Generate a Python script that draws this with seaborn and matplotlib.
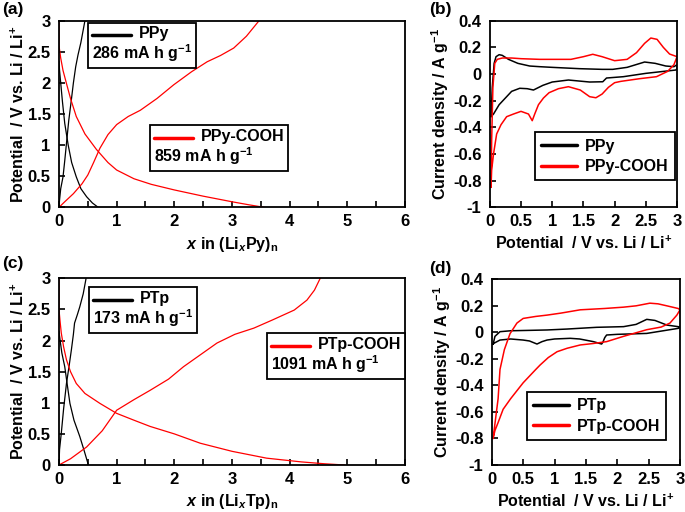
import numpy as np
import pandas as pd
import seaborn as sns
import matplotlib
matplotlib.use("Agg")
import matplotlib.pyplot as plt
from matplotlib.lines import Line2D
from matplotlib.offsetbox import AnchoredOffsetbox, VPacker, HPacker, TextArea, DrawingArea
from matplotlib.ticker import MultipleLocator, FuncFormatter

# ---------------- data ----------------
# (a) PPy / PPy-COOH galvanostatic curves
ppy_dis_x = [0, 0.01, 0.03, 0.06, 0.1, 0.16, 0.22, 0.3, 0.38, 0.48, 0.58, 0.68]
ppy_dis_y = [2.35, 2.2, 2.0, 1.7, 1.35, 1.0, 0.72, 0.49, 0.3, 0.17, 0.07, 0.0]
ppy_chg_x = [0, 0.01, 0.03, 0.07, 0.1, 0.13, 0.17, 0.215, 0.25, 0.29, 0.33, 0.38, 0.45]
ppy_chg_y = [0, 0.12, 0.3, 0.49, 0.75, 1.03, 1.4, 1.73, 2.0, 2.26, 2.45, 2.65, 3.0]
ppyc_dis_x = [0, 0, 0.03, 0.07, 0.13, 0.2, 0.3, 0.45, 0.65, 0.85, 1.0, 1.3, 1.6, 2.0, 2.5, 3.0, 3.3, 3.56]
ppyc_dis_y = [3.0, 2.6, 2.4, 2.2, 1.99, 1.75, 1.46, 1.18, 0.93, 0.72, 0.6, 0.46, 0.37, 0.28, 0.18, 0.09, 0.04, 0.0]
ppyc_chg_x = [0, 0.1, 0.25, 0.4, 0.5, 0.6, 0.71, 0.85, 1.0, 1.2, 1.41, 1.7, 1.99, 2.3, 2.57, 2.8, 3.03, 3.25, 3.47]
ppyc_chg_y = [0, 0.09, 0.22, 0.38, 0.52, 0.72, 0.95, 1.17, 1.33, 1.46, 1.56, 1.75, 1.97, 2.18, 2.34, 2.44, 2.56, 2.75, 3.0]

# (c) PTp / PTp-COOH galvanostatic curves
ptp_dis_x = [0, 0.02, 0.05, 0.1, 0.15, 0.19, 0.26, 0.36, 0.44, 0.51]
ptp_dis_y = [2.15, 2.0, 1.8, 1.58, 1.25, 0.99, 0.72, 0.46, 0.22, 0.0]
ptp_chg_x = [0, 0.01, 0.04, 0.08, 0.13, 0.18, 0.215, 0.25, 0.27, 0.32, 0.36, 0.42, 0.47]
ptp_chg_y = [0, 0.25, 0.51, 0.9, 1.31, 1.62, 1.85, 2.1, 2.28, 2.42, 2.54, 2.75, 3.0]
ptpc_dis_x = [0, 0, 0.02, 0.04, 0.08, 0.13, 0.2, 0.3, 0.45, 0.71, 1.0, 1.3, 1.58, 2.0, 2.45, 3.0, 3.6, 4.2, 4.6, 4.95]
ptpc_dis_y = [3.0, 2.5, 2.3, 2.12, 1.9, 1.69, 1.5, 1.31, 1.15, 0.99, 0.83, 0.72, 0.62, 0.5, 0.35, 0.22, 0.11, 0.05, 0.02, 0.0]
ptpc_chg_x = [0, 0.2, 0.48, 0.75, 1.0, 1.3, 1.58, 1.9, 2.16, 2.45, 2.74, 3.05, 3.38, 3.7, 4.08, 4.3, 4.43, 4.53]
ptpc_chg_y = [0, 0.1, 0.29, 0.55, 0.88, 1.05, 1.2, 1.38, 1.58, 1.77, 1.96, 2.1, 2.2, 2.33, 2.49, 2.65, 2.81, 3.0]

# (b) CV PPy / PPy-COOH
ppy_cv_up_v = [0.02, 0.04, 0.07, 0.1, 0.15, 0.2, 0.3, 0.45, 0.64, 0.8, 1.0, 1.44, 1.8, 1.97, 2.2, 2.48, 2.65, 2.82, 2.95, 3.0]
ppy_cv_up_i = [-0.32, -0.1, 0.08, 0.13, 0.145, 0.14, 0.11, 0.08, 0.06, 0.055, 0.05, 0.04, 0.035, 0.035, 0.05, 0.09, 0.08, 0.06, 0.055, 0.07]
ppy_cv_dn_v = [3.0, 2.98, 2.5, 2.14, 1.87, 1.81, 1.6, 1.26, 1.0, 0.85, 0.7, 0.6, 0.48, 0.35, 0.27, 0.15, 0.06, 0.02]
ppy_cv_dn_i = [0.04, 0.03, 0.005, -0.02, -0.03, -0.058, -0.06, -0.045, -0.06, -0.085, -0.12, -0.11, -0.107, -0.13, -0.17, -0.23, -0.3, -0.32]
ppyc_cv_up_v = [0.02, 0.03, 0.05, 0.08, 0.12, 0.2, 0.35, 0.5, 0.8, 1.0, 1.3, 1.5, 1.65, 1.8, 2.0, 2.2, 2.35, 2.48, 2.58, 2.68, 2.78, 2.88, 3.0]
ppyc_cv_up_i = [-0.85, -0.5, -0.1, 0.08, 0.11, 0.12, 0.12, 0.115, 0.11, 0.11, 0.11, 0.13, 0.148, 0.13, 0.1, 0.11, 0.16, 0.23, 0.27, 0.26, 0.2, 0.15, 0.13]
ppyc_cv_dn_v = [3.0, 2.95, 2.85, 2.67, 2.4, 2.1, 2.0, 1.9, 1.8, 1.7, 1.6, 1.45, 1.26, 1.1, 0.95, 0.86, 0.78, 0.72, 0.68, 0.62, 0.5, 0.38, 0.27, 0.18, 0.11, 0.06, 0.03, 0.02]
ppyc_cv_dn_i = [0.13, 0.07, 0.02, -0.02, -0.035, -0.055, -0.065, -0.1, -0.15, -0.178, -0.17, -0.12, -0.095, -0.11, -0.14, -0.18, -0.23, -0.3, -0.35, -0.3, -0.28, -0.3, -0.32, -0.38, -0.45, -0.6, -0.72, -0.85]

# (d) CV PTp / PTp-COOH
ptp_cv_up_v = [0.02, 0.05, 0.13, 0.3, 0.6, 0.88, 1.2, 1.67, 2.1, 2.3, 2.47, 2.6, 2.79, 2.97, 3.0]
ptp_cv_up_i = [-0.09, -0.03, 0.005, 0.012, 0.015, 0.018, 0.025, 0.038, 0.043, 0.06, 0.098, 0.09, 0.055, 0.043, 0.04]
ptp_cv_dn_v = [3.0, 2.97, 2.47, 2.0, 1.83, 1.8, 1.77, 1.75, 1.62, 1.4, 1.25, 1.0, 0.88, 0.8, 0.72, 0.6, 0.5, 0.3, 0.13, 0.03, 0.02]
ptp_cv_dn_i = [0.035, 0.03, -0.008, -0.015, -0.02, -0.04, -0.075, -0.088, -0.07, -0.05, -0.045, -0.05, -0.058, -0.07, -0.088, -0.065, -0.058, -0.05, -0.058, -0.083, -0.09]
ptpc_cv_up_v = [0.02, 0.06, 0.1, 0.13, 0.2, 0.29, 0.4, 0.5, 0.7, 0.88, 1.1, 1.41, 1.8, 2.1, 2.3, 2.52, 2.65, 2.79, 2.97, 3.0]
ptpc_cv_up_i = [-0.8, -0.65, -0.5, -0.28, -0.13, -0.01, 0.07, 0.105, 0.12, 0.13, 0.145, 0.17, 0.18, 0.19, 0.2, 0.22, 0.215, 0.2, 0.18, 0.17]
ptpc_cv_dn_v = [3.0, 2.95, 2.84, 2.7, 2.47, 2.1, 1.83, 1.6, 1.41, 1.2, 1.04, 0.9, 0.77, 0.7, 0.5, 0.3, 0.18, 0.1, 0.05, 0.02]
ptpc_cv_dn_i = [0.17, 0.13, 0.07, 0.04, 0.02, -0.03, -0.07, -0.085, -0.095, -0.12, -0.146, -0.19, -0.246, -0.28, -0.38, -0.5, -0.58, -0.68, -0.74, -0.8]

cap_labels = {"PPy": "286 mA h g$^{-1}$", "PPy-COOH": "859 mA h g$^{-1}$",
              "PTp": "173 mA h g$^{-1}$", "PTp-COOH": "1091 mA h g$^{-1}$"}

# ---------------- style ----------------
sns.set_theme(style="white")
plt.rcParams.update({
    "font.family": ["Liberation Sans", "DejaVu Sans"],
    "font.weight": "bold",
    "axes.labelweight": "bold",
    "mathtext.fontset": "custom",
    "mathtext.rm": "Liberation Sans:bold",
    "mathtext.it": "Liberation Sans:bold:italic",
    "mathtext.bf": "Liberation Sans:bold",
    "axes.unicode_minus": False,
    "axes.edgecolor": "black",
    "axes.linewidth": 1.3,
    "xtick.direction": "in",
    "ytick.direction": "in",
    "xtick.major.size": 4,
    "ytick.major.size": 4,
    "xtick.major.width": 1.2,
    "ytick.major.width": 1.2,
    "xtick.major.pad": 5,
    "ytick.major.pad": 6,
    "xtick.bottom": True,
    "ytick.left": True,
    "xtick.color": "black",
    "ytick.color": "black",
    "xtick.labelsize": 12,
    "ytick.labelsize": 12,
    "axes.labelsize": 11.5,
    "text.color": "black",
    "axes.labelcolor": "black",
})

fig = plt.figure(figsize=(6.85, 5.12), dpi=100)
ax_a = fig.add_axes([0.0861, 0.595, 0.5051, 0.3646])
ax_b = fig.add_axes([0.715, 0.595, 0.2734, 0.3646])
ax_c = fig.add_axes([0.0861, 0.0918, 0.5051, 0.3646])
ax_d = fig.add_axes([0.718, 0.0918, 0.2747, 0.3627])


def frame(parts):
    rows = []
    for series, branch, xs, ys in parts:
        rows.append(pd.DataFrame({"x": xs, "y": ys, "series": series, "branch": branch}))
    return pd.concat(rows, ignore_index=True)


def num_fmt(v, p):
    return f"{round(v, 6) + 0:g}"


def int_fmt(v, p):
    return f"{round(v) + 0:g}" if abs(v - round(v)) < 1e-6 else ""


def gcd_axes(ax, df, names, xlabel):
    sns.lineplot(data=df, x="x", y="y", hue="series", units="branch", estimator=None,
                 sort=False, palette={names[0]: "black", names[1]: "red"}, lw=0.9,
                 legend=False, ax=ax)
    ax.set_xlim(0, 6)
    ax.set_ylim(0, 3)
    ax.xaxis.set_major_locator(MultipleLocator(0.5))
    ax.xaxis.set_major_formatter(FuncFormatter(int_fmt))
    ax.yaxis.set_major_locator(MultipleLocator(0.5))
    ax.yaxis.set_major_formatter(FuncFormatter(num_fmt))
    ax.set_xlabel(xlabel, labelpad=4)
    ax.set_ylabel("Potential  / V vs. Li / Li$^{+}$", labelpad=0.5)
    for s in ax.spines.values():
        s.set_visible(True)


def cap_box(ax, name, color, anchor):
    da = DrawingArea(28, 10, 0, 0)
    da.add_artist(Line2D([0, 28], [4, 4], color=color, lw=2.5))
    top = HPacker(children=[da, TextArea(name, textprops=dict(fontsize=11.5, fontweight="bold"))],
                  align="center", pad=0, sep=6)
    box = VPacker(children=[top, TextArea(cap_labels[name], textprops=dict(fontsize=11.5, fontweight="bold"))],
                  align="left", pad=0, sep=1)
    ab = AnchoredOffsetbox(loc="upper left", child=box, pad=0.25, borderpad=0,
                           bbox_to_anchor=anchor, bbox_transform=ax.transAxes, frameon=True)
    ab.patch.set_boxstyle("square", pad=0)
    ab.patch.set_edgecolor("black")
    ab.patch.set_linewidth(1.3)
    ax.add_artist(ab)


def cv_axes(ax, df, names, anchor):
    sns.lineplot(data=df, x="x", y="y", hue="series", units="branch", estimator=None,
                 sort=False, palette={names[0]: "black", names[1]: "red"}, lw=1.1,
                 legend=False, ax=ax)
    ax.set_xlim(0, 3)
    ax.set_ylim(-1, 0.4)
    ax.xaxis.set_major_locator(MultipleLocator(0.5))
    ax.xaxis.set_major_formatter(FuncFormatter(num_fmt))
    ax.yaxis.set_major_locator(MultipleLocator(0.2))
    ax.yaxis.set_major_formatter(FuncFormatter(num_fmt))
    ax.set_xlabel("Potential  / V vs. Li / Li$^{+}$", labelpad=4)
    ax.set_ylabel("Current density / A g$^{-1}$", labelpad=1.5)
    handles = [Line2D([], [], color="black", lw=2.5), Line2D([], [], color="red", lw=2.5)]
    leg = ax.legend(handles, names, loc="upper left", bbox_to_anchor=anchor, borderaxespad=0,
                    frameon=True, fancybox=False, edgecolor="black", framealpha=1,
                    prop=dict(size=11.5, weight="bold"), handlelength=2.2, handletextpad=0.5,
                    labelspacing=0.35, borderpad=0.4)
    leg.get_frame().set_linewidth(1.3)
    for s in ax.spines.values():
        s.set_visible(True)


df_a = frame([("PPy", "dis", ppy_dis_x, ppy_dis_y), ("PPy", "chg", ppy_chg_x, ppy_chg_y),
              ("PPy-COOH", "dis", ppyc_dis_x, ppyc_dis_y), ("PPy-COOH", "chg", ppyc_chg_x, ppyc_chg_y)])
gcd_axes(ax_a, df_a, ["PPy", "PPy-COOH"], "$x$ in (Li$_{x}$Py)$_{\\mathrm{n}}$")
cap_box(ax_a, "PPy", "black", (0.084, 0.99))
cap_box(ax_a, "PPy-COOH", "red", (0.263, 0.441))

df_c = frame([("PTp", "dis", ptp_dis_x, ptp_dis_y), ("PTp", "chg", ptp_chg_x, ptp_chg_y),
              ("PTp-COOH", "dis", ptpc_dis_x, ptpc_dis_y), ("PTp-COOH", "chg", ptpc_chg_x, ptpc_chg_y)])
gcd_axes(ax_c, df_c, ["PTp", "PTp-COOH"], "$x$ in (Li$_{x}$Tp)$_{\\mathrm{n}}$")
cap_box(ax_c, "PTp", "black", (0.087, 0.953))
cap_box(ax_c, "PTp-COOH", "red", (0.601, 0.707))

df_b = frame([("PPy", "loop", ppy_cv_up_v + ppy_cv_dn_v, ppy_cv_up_i + ppy_cv_dn_i),
              ("PPy-COOH", "loop", ppyc_cv_up_v + ppyc_cv_dn_v, ppyc_cv_up_i + ppyc_cv_dn_i)])
cv_axes(ax_b, df_b, ["PPy", "PPy-COOH"], (0.242, 0.403))

df_d = frame([("PTp", "loop", ptp_cv_up_v + ptp_cv_dn_v, ptp_cv_up_i + ptp_cv_dn_i),
              ("PTp-COOH", "loop", ptpc_cv_up_v + ptpc_cv_dn_v, ptpc_cv_up_i + ptpc_cv_dn_i)])
cv_axes(ax_d, df_d, ["PTp", "PTp-COOH"], (0.187, 0.393))

for lab, xy in [("(a)", (0.003, 0.997)), ("(b)", (0.626, 0.997)),
                ("(c)", (0.003, 0.5)), ("(d)", (0.626, 0.49))]:
    fig.text(xy[0], xy[1], lab, ha="left", va="top", fontsize=12.5, fontweight="bold")

fig.savefig("out.png", dpi=100)
